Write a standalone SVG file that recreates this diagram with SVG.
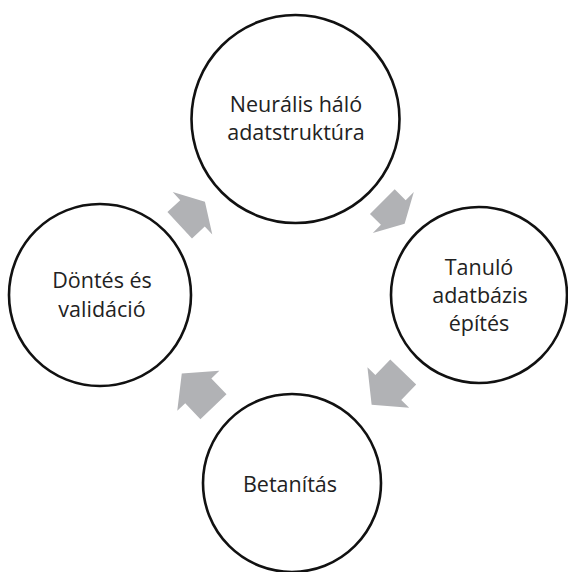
<svg xmlns="http://www.w3.org/2000/svg" width="568" height="572" viewBox="0 0 568 572">
<style>
.node circle{fill:#ffffff;stroke:#111111;stroke-width:2.6}
.node text{font-family:"Open Sans","Liberation Sans",sans-serif;font-size:21.5px;fill:#222222;text-anchor:middle}
.arrow{fill:#b1b2b5;stroke:none}
</style>
<rect width="568" height="572" fill="#ffffff"/>
<g id="connectors">
<polygon class="arrow" transform="translate(393.3,212.5) rotate(45)" points="-15.5,-17.5 0,-17.5 0,-29 16,0 0,29 0,17.5 -15.5,17.5"/>
<polygon class="arrow" transform="translate(388.3,387.5) rotate(134)" points="-21.5,-18 0,-18 0,-29 24,0 0,29 0,18 -21.5,18"/>
<polygon class="arrow" transform="translate(198.3,390.8) rotate(226.5)" points="-22,-18 0,-18 0,-29 24,0 0,29 0,18 -22,18"/>
<polygon class="arrow" transform="translate(192.5,213.3) rotate(-43)" points="-17.5,-18 0,-18 0,-29 17,0 0,29 0,18 -17.5,18"/>
</g>
<g id="node-neuralis" class="node">
<circle cx="295.5" cy="119" r="104"/>
<text x="296" y="112">Neurális háló</text>
<text x="296" y="140">adatstruktúra</text>
</g>
<g id="node-tanulo" class="node">
<circle cx="479" cy="295" r="88"/>
<text x="479" y="275">Tanuló</text>
<text x="480" y="302.7">adatbázis</text>
<text x="479" y="330.5">építés</text>
</g>
<g id="node-betanitas" class="node">
<circle cx="292" cy="483" r="89"/>
<text x="290" y="491.7">Betanítás</text>
</g>
<g id="node-dontes" class="node">
<circle cx="100" cy="295" r="91"/>
<text x="102" y="288.3">Döntés és</text>
<text x="102" y="317">validáció</text>
</g>
</svg>
